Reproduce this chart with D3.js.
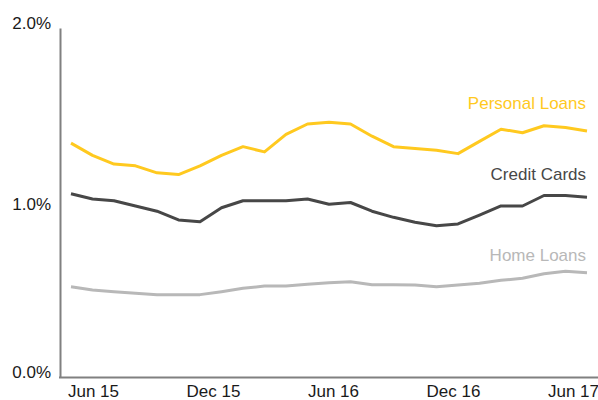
<!DOCTYPE html>
<html>
<head>
<meta charset="utf-8">
<script src="https://cdn.jsdelivr.net/npm/d3@7"></script>
<style>
  body { margin: 0; background: #fff; }
  svg text { font-family: "Liberation Sans", Arial, sans-serif; }
</style>
</head>
<body>
<div id="chart"></div>
<script>
const months = [
  'Jun 15', 'Jul 15', 'Aug 15', 'Sep 15', 'Oct 15', 'Nov 15', 'Dec 15',
  'Jan 16', 'Feb 16', 'Mar 16', 'Apr 16', 'May 16', 'Jun 16',
  'Jul 16', 'Aug 16', 'Sep 16', 'Oct 16', 'Nov 16', 'Dec 16',
  'Jan 17', 'Feb 17', 'Mar 17', 'Apr 17', 'May 17', 'Jun 17'
];
const tickLabels = ['Jun 15', 'Dec 15', 'Jun 16', 'Dec 16', 'Jun 17'];
const yTicks = [0, 1, 2];

// values in %
const personalLoans = [
  1.34, 1.27, 1.22, 1.21, 1.17, 1.16, 1.21, 1.27, 1.32, 1.29, 1.39, 1.45, 1.46,
  1.45, 1.38, 1.32, 1.31, 1.30, 1.28, 1.35, 1.42, 1.40, 1.44, 1.43, 1.41
];
const creditCards = [
  1.05, 1.02, 1.01, 0.98, 0.95, 0.90, 0.89, 0.97, 1.01, 1.01, 1.01, 1.02, 0.99,
  1.00, 0.95, 0.915, 0.887, 0.867, 0.877, 0.928, 0.98, 0.98, 1.04, 1.04, 1.03
];
const homeLoans = [
  0.517, 0.499, 0.489, 0.480, 0.472, 0.472, 0.472, 0.489, 0.508, 0.521, 0.521, 0.531, 0.540,
  0.546, 0.529, 0.529, 0.527, 0.517, 0.527, 0.537, 0.554, 0.566, 0.592, 0.606, 0.598
];

const series = [
  { name: 'Personal Loans', values: personalLoans, color: '#FFC91F', labelAt: 1.57 },
  { name: 'Credit Cards', values: creditCards, color: '#474747', labelAt: 1.163 },
  { name: 'Home Loans', values: homeLoans, color: '#B8B8B8', labelAt: 0.70 }
];

const width = 598;
const height = 400;
const marginLeft = 60;
const plotTop = 28;
const plotBottom = 377;

const svg = d3.select('#chart').append('svg')
  .attr('width', width)
  .attr('height', height);

const x = d3.scalePoint().domain(months).range([71, 587]);
const xLabels = d3.scalePoint().domain(tickLabels).range([93, 573]);
const y = d3.scaleLinear().domain([0, 2]).range([plotBottom, plotTop]);

// y axis
const yAxis = d3.axisLeft(y).tickValues(yTicks).tickSize(0).tickPadding(9)
  .tickFormat((d) => d3.format('.1f')(d) + '%');

svg.append('g')
  .attr('class', 'y-axis')
  .attr('transform', `translate(${marginLeft},0)`)
  .call(yAxis)
  .call((g) => g.select('.domain').attr('stroke', '#808080').attr('stroke-width', 2))
  .call((g) => g.selectAll('text')
    .attr('font-size', 17)
    .attr('fill', '#1a1a1a')
    .attr('dy', (d) => (d === 1 ? '0.42em' : '0.05em')));

// x axis
svg.append('line')
  .attr('x1', marginLeft - 1)
  .attr('x2', width)
  .attr('y1', plotBottom + 0.5)
  .attr('y2', plotBottom + 0.5)
  .attr('stroke', '#808080')
  .attr('stroke-width', 2);

const xAxis = d3.axisBottom(xLabels).tickSize(0).tickPadding(8);

svg.append('g')
  .attr('class', 'x-axis')
  .attr('transform', `translate(0,${plotBottom})`)
  .call(xAxis)
  .call((g) => g.select('.domain').remove())
  .call((g) => g.selectAll('text')
    .attr('font-size', 17)
    .attr('fill', '#1a1a1a'));

// lines
const line = d3.line()
  .x((d, i) => x(months[i]))
  .y((d) => y(d));

svg.selectAll('.series')
  .data(series)
  .enter().append('path')
  .attr('class', 'series')
  .attr('d', (d) => line(d.values))
  .attr('fill', 'none')
  .attr('stroke', (d) => d.color)
  .attr('stroke-width', 3)
  .attr('stroke-linejoin', 'round');

svg.selectAll('.series-label')
  .data(series)
  .enter().append('text')
  .attr('class', 'series-label')
  .attr('x', x(months[months.length - 1]) - 1)
  .attr('y', (d) => y(d.labelAt))
  .attr('dy', '0.35em')
  .attr('text-anchor', 'end')
  .attr('font-size', 17)
  .attr('fill', (d) => d.color)
  .text((d) => d.name);
</script>
</body>
</html>
